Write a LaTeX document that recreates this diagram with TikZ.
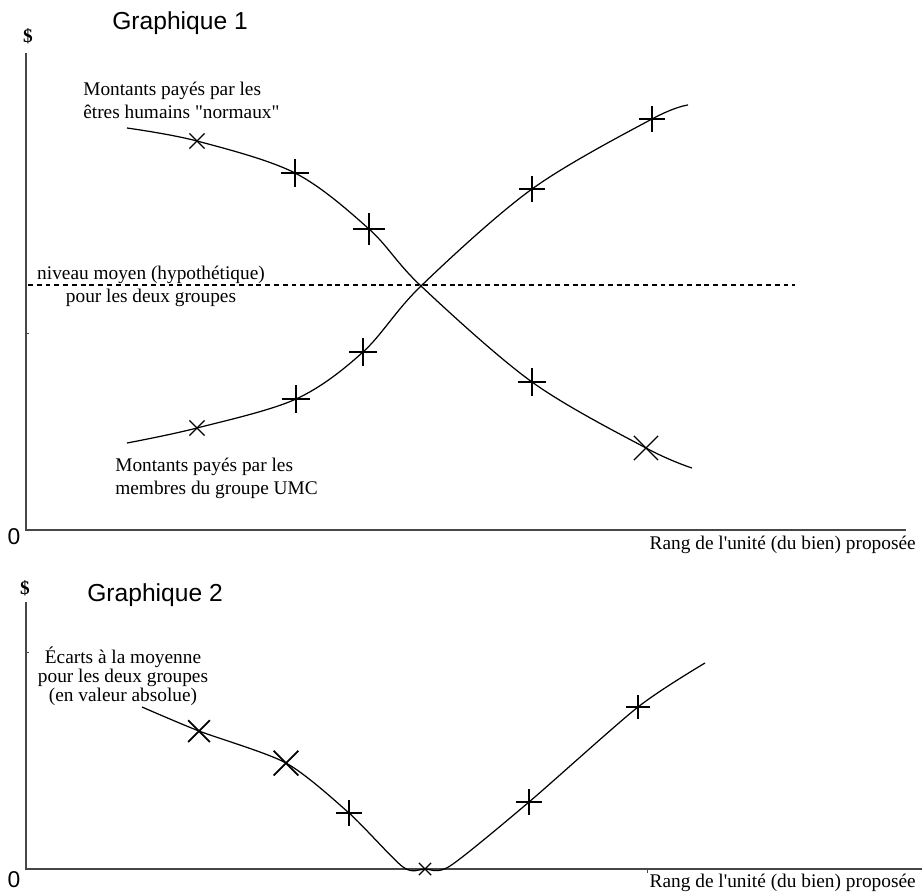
\documentclass[tikz,border=0pt]{standalone}
\usepackage{fontspec}
\setmainfont{Liberation Serif}[Ligatures=TeXOff]
\newfontfamily\headfont{Liberation Sans}
\usetikzlibrary{shapes.misc}

\begin{document}
\begin{tikzpicture}[
  x=0.02cm, y=-0.02cm,
  axis/.style={draw=black!72, line width=1.1pt},
  tick/.style={draw=black!72, line width=0.5pt},
  curve/.style={line width=0.7pt},
  meanline/.style={line width=0.6pt, dash pattern=on 2.8pt off 2.2pt},
  title/.style={font=\headfont\fontsize{14}{16}\selectfont, anchor=west, inner sep=0pt},
  lbl/.style={font=\fontsize{11}{13}\selectfont, align=left, inner sep=0pt},
  lblc/.style={font=\fontsize{11}{10.8}\selectfont, align=center, inner sep=0pt},
  unit/.style={font=\bfseries\fontsize{11}{13}\selectfont, inner sep=0pt},
  zero/.style={font=\headfont\fontsize{13}{15}\selectfont, inner sep=0pt},
  xmark/.style={cross out, draw, minimum size=#1, inner sep=0pt, line width=0.7pt},
  plusmark/.style={xmark=#1, rotate=45}
]
\useasboundingbox (0,0) rectangle (922,893);

% ==================== Graphique 1 ====================
\node[title] (g1_title) at (112,23) {Graphique 1};
\node[unit] (g1_usd) at (28,36) {\$};
\node[zero] (g1_zero) at (14,537) {0};

\coordinate (g1_top) at (26,53);
\coordinate (g1_orig) at (26,530);
\coordinate (g1_end) at (906,530);
\draw[axis] (g1_top) -- (g1_orig) -- (g1_end);
\draw[tick] (26,333) -- (29,333);

\node[lbl, anchor=east] (g1_rang) at (916,545) {Rang de l'unité (du bien) proposée};

% mean level
\coordinate (g1_m0) at (28,285);
\coordinate (g1_m1) at (795,285);
\draw[meanline] (g1_m0) -- (g1_m1);
\node[lblc, font=\fontsize{11}{12.8}\selectfont] (g1_mean) at (151,286.5) {niveau moyen (hypothétique)\\pour les deux groupes};

% "normaux" curve
\node[lbl, anchor=west] (g1_norm_lbl) at (83,100) {Montants payés par les\\êtres humains "normaux"};
\coordinate (nm_s) at (127,128);
\node[xmark=0.28cm] (nm1) at (197,141) {};
\node[plusmark=0.37cm] (nm2) at (295,173) {};
\node[plusmark=0.42cm] (nm3) at (369,229) {};
\coordinate (cx) at (421,286);
\node[plusmark=0.37cm] (nm4) at (532,382) {};
\node[xmark=0.46cm] (nm5) at (646,448) {};
\coordinate (nm_e) at (692,468);
\draw[curve] plot[smooth, tension=0.55] coordinates {(nm_s) (nm1.center) (nm2.center) (nm3.center) (cx) (nm4.center) (nm5.center) (nm_e)};

% UMC curve
\node[lbl, anchor=west] (g1_umc_lbl) at (115,478) {Montants payés par les\\membres du groupe UMC};
\coordinate (um_s) at (127,443);
\node[xmark=0.28cm] (um1) at (197,428) {};
\node[plusmark=0.37cm] (um2) at (296,399) {};
\node[plusmark=0.37cm] (um3) at (363,352) {};
\node[plusmark=0.35cm] (um4) at (532,189) {};
\node[plusmark=0.34cm] (um5) at (652,119) {};
\coordinate (um_e) at (688,105);
\draw[curve] plot[smooth, tension=0.55] coordinates {(um_s) (um1.center) (um2.center) (um3.center) (cx) (um4.center) (um5.center) (um_e)};

% ==================== Graphique 2 ====================
\node[title] (g2_title) at (87,595) {Graphique 2};
\node[unit] (g2_usd) at (25,588) {\$};
\node[zero] (g2_zero) at (14,880) {0};

\coordinate (g2_top) at (26,602);
\coordinate (g2_orig) at (26,869);
\coordinate (g2_end) at (922,869);
\draw[axis] (g2_top) -- (g2_orig) -- (g2_end);
\draw[tick] (26,652) -- (29,652);
\draw[tick] (647,869) -- (647,873);

\node[lbl, anchor=east] (g2_rang) at (916,883) {Rang de l'unité (du bien) proposée};

\node[lblc] (g2_lbl) at (123,676) {Écarts à la moyenne\\pour les deux groupes\\(en valeur absolue)};
\coordinate (ec_s) at (142,707);
\node[xmark=0.4cm, line width=1pt] (ec1) at (199,731) {};
\node[xmark=0.46cm, line width=1pt] (ec2) at (286,763) {};
\node[plusmark=0.34cm] (ec3) at (349,813) {};
\coordinate (ec_b0) at (403,867);
\node[xmark=0.22cm] (ec4) at (425,869) {};
\coordinate (ec_b1) at (450,866);
\node[plusmark=0.34cm] (ec5) at (529,802) {};
\node[plusmark=0.31cm] (ec6) at (638,707) {};
\coordinate (ec_e) at (705,663);
\draw[curve] plot[smooth, tension=0.45] coordinates {(ec_s) (ec1.center) (ec2.center) (ec3.center) (ec_b0) (ec4.center) (ec_b1) (ec5.center) (ec6.center) (ec_e)};

\end{tikzpicture}
\end{document}
